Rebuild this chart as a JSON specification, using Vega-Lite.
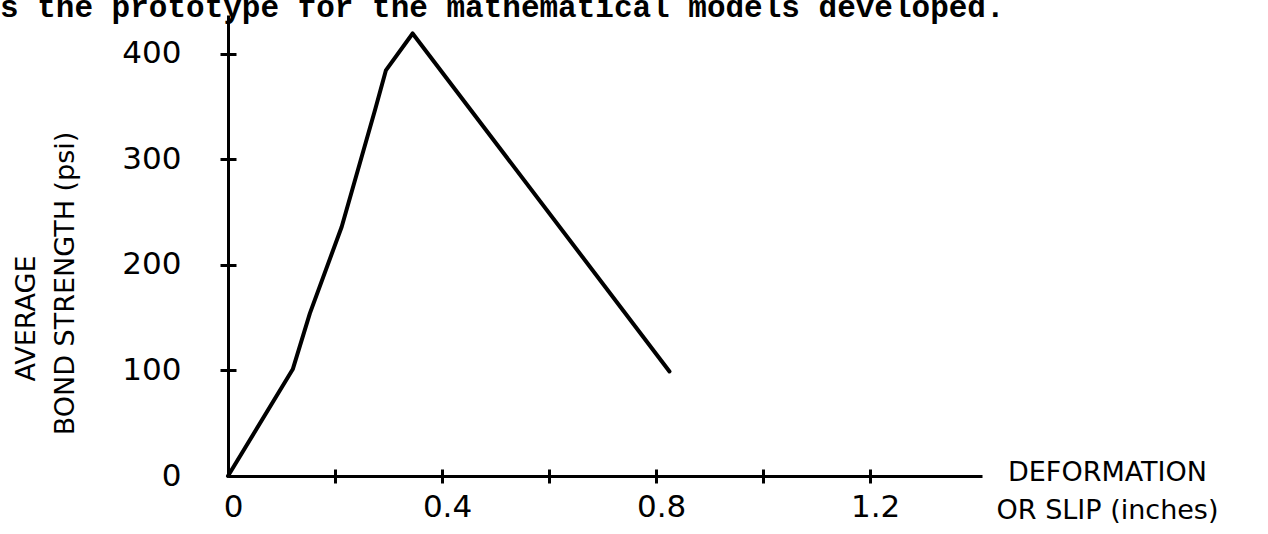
{
  "$schema": "https://vega.github.io/schema/vega-lite/v6.json",
  "width": 754,
  "height": 461,
  "autosize": "none",
  "padding": {"left": 228, "top": 15, "right": 286, "bottom": 58},
  "background": "white",
  "title": {
    "text": "s the prototype for the mathematical models developed.",
    "font": "Liberation Mono",
    "fontSize": 31,
    "fontWeight": "bold",
    "color": "black",
    "anchor": "start",
    "frame": "group",
    "baseline": "alphabetic",
    "offset": 0,
    "dx": -228,
    "dy": 33
  },
  "data": {
    "values": [
      {"slip": 0, "bond": 0},
      {"slip": 0.121, "bond": 101},
      {"slip": 0.153, "bond": 154},
      {"slip": 0.2125, "bond": 236},
      {"slip": 0.275, "bond": 347},
      {"slip": 0.295, "bond": 384},
      {"slip": 0.345, "bond": 419},
      {"slip": 0.825, "bond": 99}
    ]
  },
  "layer": [
    {
      "mark": {"type": "line", "color": "black", "strokeWidth": 4, "strokeJoin": "round", "strokeCap": "round"},
      "encoding": {
        "x": {
          "field": "slip", "type": "quantitative",
          "scale": {"domain": [0, 1.409], "nice": false, "zero": false},
          "axis": {
            "orient": "bottom",
            "offset": -7,
            "values": [0, 0.2, 0.4, 0.6, 0.8, 1.0, 1.2],
            "tickSize": 14,
            "tickWidth": 3,
            "tickColor": "black",
            "tickOpacity": {"condition": {"test": "datum.value == 0", "value": 0}, "value": 1},
            "domain": false,
            "grid": false,
            "labelExpr": "round(datum.value * 10) % 4 == 0 ? (datum.value == 0 ? '0' : format(datum.value, '.1f')) : ''",
            "labelFont": "DejaVu Sans",
            "labelFontSize": 31,
            "labelColor": "black",
            "labelPadding": 9,
            "labelOffset": 5,
            "labelFlush": false,
            "labelOverlap": false,
            "title": ["DEFORMATION", "OR SLIP (inches)"],
            "titleFont": "DejaVu Sans",
            "titleFontSize": 27,
            "titleFontWeight": "normal",
            "titleColor": "black",
            "titleAlign": "center",
            "titleAnchor": null,
            "titleBaseline": "top",
            "titleLineHeight": 38,
            "titleX": 879,
            "titleY": -10
          }
        },
        "y": {
          "field": "bond", "type": "quantitative",
          "scale": {"domain": [0, 436.5], "nice": false, "zero": false},
          "axis": {
            "orient": "left",
            "offset": -8,
            "values": [0, 100, 200, 300, 400],
            "tickSize": 16,
            "tickWidth": 3,
            "tickColor": "black",
            "tickOpacity": {"condition": {"test": "datum.value == 0", "value": 0}, "value": 1},
            "domain": false,
            "grid": false,
            "labelFont": "DejaVu Sans",
            "labelFontSize": 31,
            "labelColor": "black",
            "labelPadding": 39,
            "labelFlush": false,
            "labelOverlap": false,
            "title": "BOND STRENGTH (psi)",
            "titleFont": "DejaVu Sans",
            "titleFontSize": 27,
            "titleFontWeight": "normal",
            "titleColor": "black",
            "titleAngle": -90,
            "titleAlign": "center",
            "titleAnchor": null,
            "titleBaseline": "middle",
            "titleX": -171,
            "titleY": 268
          }
        }
      }
    },
    {
      "mark": {"type": "line", "opacity": 0},
      "encoding": {
        "x": {
          "field": "slip", "type": "quantitative",
          "axis": {
            "orient": "bottom",
            "offset": 0,
            "domain": true,
            "domainColor": "black",
            "domainWidth": 3,
            "ticks": false,
            "labels": false,
            "grid": false,
            "title": null
          }
        },
        "y": {
          "field": "bond", "type": "quantitative",
          "axis": {
            "orient": "left",
            "offset": 0,
            "domain": true,
            "domainColor": "black",
            "domainWidth": 3,
            "ticks": false,
            "labels": false,
            "grid": false,
            "title": "AVERAGE",
            "titleFont": "DejaVu Sans",
            "titleFontSize": 27,
            "titleFontWeight": "normal",
            "titleColor": "black",
            "titleAngle": -90,
            "titleAlign": "center",
            "titleAnchor": null,
            "titleBaseline": "middle",
            "titleX": -202,
            "titleY": 303
          }
        }
      }
    }
  ],
  "resolve": {"axis": {"x": "independent", "y": "independent"}},
  "config": {"view": {"stroke": null}}
}
